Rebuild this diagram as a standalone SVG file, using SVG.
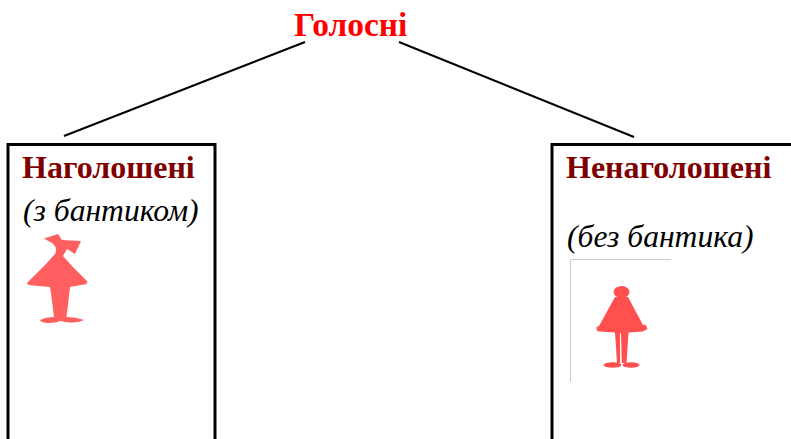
<svg xmlns="http://www.w3.org/2000/svg" width="791" height="439" viewBox="0 0 791 439">
<style>
.h{font-family:"Liberation Serif",serif;font-weight:bold;font-size:32px}
.s{font-family:"Liberation Serif",serif;font-style:italic;font-size:31.600px;fill:#000}
.box{fill:none;stroke:#000;stroke-width:3}
.line{fill:none;stroke:#000;stroke-width:2}
</style>
<rect width="791" height="439" fill="#fff"/>
<g id="connectors">
<line class="line" x1="305" y1="42" x2="64" y2="136"/>
<line class="line" x1="399" y1="42" x2="634" y2="137"/>
</g>
<g id="root"><text class="h" x="294" y="36" fill="#ff0000" style="font-size:33.400px">Голосні</text></g>
<g id="stressed">
<path class="box" d="M8 439V144.500H215V439"/>
<text class="h" x="22" y="178" fill="#7f0000">Наголошені</text>
<text class="s" x="23" y="221">(з бантиком)</text>
<path fill="#ff5f5f" d="M44 238.500L58 234L62 240L81 241L75 254L67 249L63 256L72 266L87 281Q88 284 85 284.500L81 285L70 287Q68 305 66.500 317Q76 317 84 320Q78 323 70 322.500Q64 322 61 321Q54 323.500 47 323Q40 322 40 320Q46 317 54 317Q52 300 50 287L33 285.500Q27 285 27 283L31 279L45 265L55 254Q57 250 55 246L52 243Z"/>
</g>
<g id="unstressed">
<path class="box" d="M552 439V144.500H791"/>
<text class="h" x="566" y="178" fill="#7f0000">Ненаголошені</text>
<text class="s" x="567" y="247">(без бантика)</text>
<path fill="none" stroke="#c4cccc" d="M570.500 382V259.500H671"/>
<ellipse cx="621.500" cy="292" rx="8" ry="6" fill="#ff4f4f"/>
<path fill="#ff4f4f" d="M628 297L643 325L646 325L647.500 329L643 331.500L628.500 332.500L626.500 363H621.800L621 333H620L620 363L617 363L615 332.500L600 331.500L597 331L596.500 327L599 326L615 297Z"/>
<ellipse cx="612.500" cy="365" rx="9" ry="2.800" fill="#ff4f4f"/>
<ellipse cx="631" cy="365" rx="8.500" ry="2.800" fill="#ff4f4f"/>
</g>
</svg>
